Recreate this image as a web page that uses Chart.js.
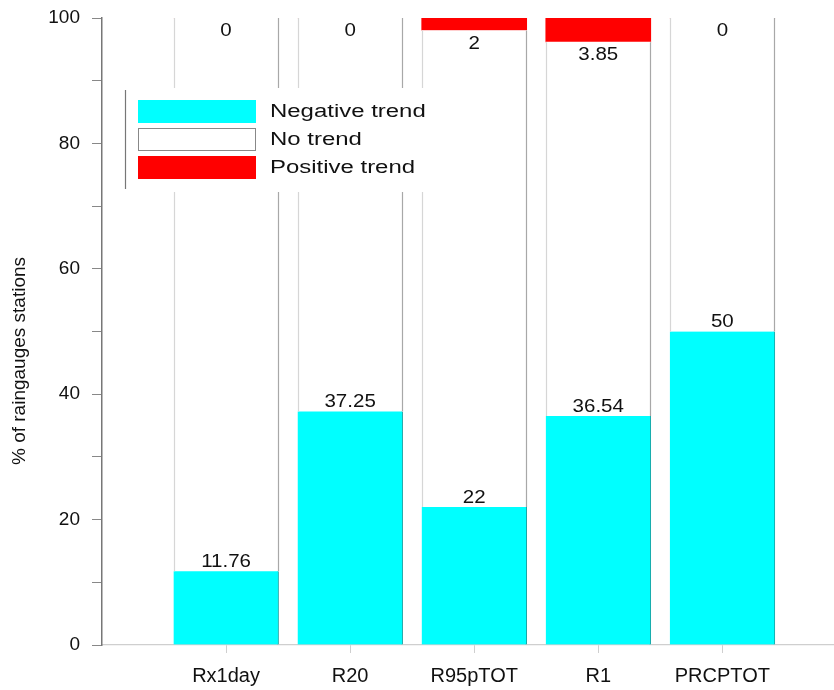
<!DOCTYPE html>
<html>
<head>
<meta charset="utf-8">
<script src="https://cdn.jsdelivr.net/npm/chart.js@4/dist/chart.umd.min.js"></script>
<style>
  body { margin: 0; background: #fff; }
  #wrap { width: 834px; height: 690px; position: relative; }
</style>
</head>
<body>
<div id="wrap"><canvas id="grafico"></canvas></div>
<script>
// indices and percentages of stations
const categories = ['Rx1day', 'R20', 'R95pTOT', 'R1', 'PRCPTOT'];
const negativeTrend = [11.76, 37.25, 22, 36.54, 50];
const noTrend = [88.24, 62.75, 76, 59.61, 50];
const positiveTrend = [0, 0, 2, 3.85, 0];
const yTicks = [0, 20, 40, 60, 80, 100];

const fonte = 'Arial, "Liberation Sans", sans-serif';

function pontos(valores) {
  return valores.map((v, i) => ({ x: i + 1, y: v }));
}

// texto esticado na horizontal, como no original
function texto(ctx, t, x, y, esticar) {
  ctx.save();
  ctx.translate(x, y);
  ctx.scale(esticar, 1);
  ctx.fillText(t, 0, 0);
  ctx.restore();
}

// labels over/under the bars, legend box and y title
const extras = {
  id: 'extras',
  afterDatasetsDraw(chart) {
    const ctx = chart.ctx;
    const xs = chart.scales.x, ys = chart.scales.y;
    ctx.save();

    // bordas laterais das barras "No trend"
    ctx.lineWidth = 1.2;
    chart.getDatasetMeta(1).data.forEach(bar => {
      const p = bar.getProps(['x', 'y', 'base', 'width'], true);
      const l = Math.round(p.x - p.width / 2) + 0.5;
      const r = Math.round(p.x + p.width / 2) - 0.5;
      ctx.strokeStyle = '#d6d6d6';
      ctx.beginPath(); ctx.moveTo(l, p.y); ctx.lineTo(l, p.base); ctx.stroke();
      ctx.strokeStyle = '#a8a8a8';
      ctx.beginPath(); ctx.moveTo(r, p.y); ctx.lineTo(r, p.base); ctx.stroke();
    });

    ctx.fillStyle = '#111';
    ctx.font = '18px ' + fonte;
    ctx.textAlign = 'center';
    ctx.textBaseline = 'middle';
    categories.forEach((c, i) => {
      const x = xs.getPixelForValue(i + 1);
      texto(ctx, String(negativeTrend[i]), x, ys.getPixelForValue(negativeTrend[i]) - 9, 1.14);
      texto(ctx, String(positiveTrend[i]), x, ys.getPixelForValue(100 - positiveTrend[i]) + 13, 1.14);
    });

    // legenda
    ctx.fillStyle = '#fff';
    ctx.fillRect(125, 88, 318, 104);
    ctx.strokeStyle = '#777';
    ctx.lineWidth = 1.2;
    ctx.beginPath();
    ctx.moveTo(125.5, 90);
    ctx.lineTo(125.5, 189);
    ctx.stroke();
    ctx.font = '18px ' + fonte;
    ctx.textAlign = 'left';
    chart.data.datasets.forEach((ds, k) => {
      const y = 100 + k * 28;
      ctx.fillStyle = ds.backgroundColor;
      ctx.fillRect(138, y, 118, 23);
      if (ds.backgroundColor === '#ffffff') {
        ctx.strokeStyle = '#888';
        ctx.lineWidth = 1;
        ctx.strokeRect(138.5, y + 0.5, 117, 22);
      }
      ctx.fillStyle = '#111';
      texto(ctx, ds.label, 270, y + 12, 1.33);
    });

    // titulo do eixo y
    ctx.translate(20, 361);
    ctx.rotate(-Math.PI / 2);
    ctx.textAlign = 'center';
    ctx.font = '19px ' + fonte;
    ctx.fillText('% of raingauges stations', 0, 0);
    ctx.restore();
  }
};

new Chart(document.getElementById('grafico'), {
  type: 'bar',
  data: {
    datasets: [{
      label: 'Negative trend',
      data: pontos(negativeTrend),
      backgroundColor: '#00ffff',
      borderColor: '#1aa5a5',
      borderWidth: { left: 0, right: 1, top: 0, bottom: 0 },
      barThickness: 105
    }, {
      label: 'No trend',
      data: pontos(noTrend),
      backgroundColor: '#ffffff',
      borderWidth: 0,
      barThickness: 105
    }, {
      label: 'Positive trend',
      data: pontos(positiveTrend),
      backgroundColor: '#ff0000',
      borderWidth: 0,
      barThickness: 105
    }]
  },
  options: {
    responsive: true,
    maintainAspectRatio: false,
    animation: false,
    layout: { padding: { top: 18, right: 0, left: 0, bottom: 0 } },
    plugins: {
      legend: { display: false },
      tooltip: { enabled: false }
    },
    scales: {
      x: {
        type: 'linear',
        stacked: true,
        offset: false,
        min: 0,
        max: 5.9,
        afterFit: s => { s.height = 45; s.paddingLeft = 0; s.paddingRight = 0; },
        border: { color: '#cfcfcf', width: 1.2 },
        grid: {
          offset: false,
          drawOnChartArea: false,
          tickLength: 8,
          color: c => (c.tick && c.tick.value === 0 ? 'rgba(0,0,0,0)' : '#cfcfcf')
        },
        ticks: {
          stepSize: 1,
          includeBounds: false,
          autoSkip: false,
          maxRotation: 0,
          padding: 11,
          color: '#111',
          font: { family: fonte, size: 20 },
          callback: v => categories[v - 1] || ''
        }
      },
      y: {
        stacked: true,
        min: 0,
        max: 100,
        afterFit: s => { s.width = 102; s.paddingTop = 0; s.paddingBottom = 0; },
        border: { color: '#777', width: 1.5 },
        grid: { drawOnChartArea: false, tickLength: 10, color: '#888' },
        ticks: {
          stepSize: 10,
          padding: 12,
          color: '#111',
          font: { family: fonte, size: 19 },
          callback: v => (yTicks.includes(v) ? v : '')
        }
      }
    }
  },
  plugins: [extras]
});
</script>
</body>
</html>
